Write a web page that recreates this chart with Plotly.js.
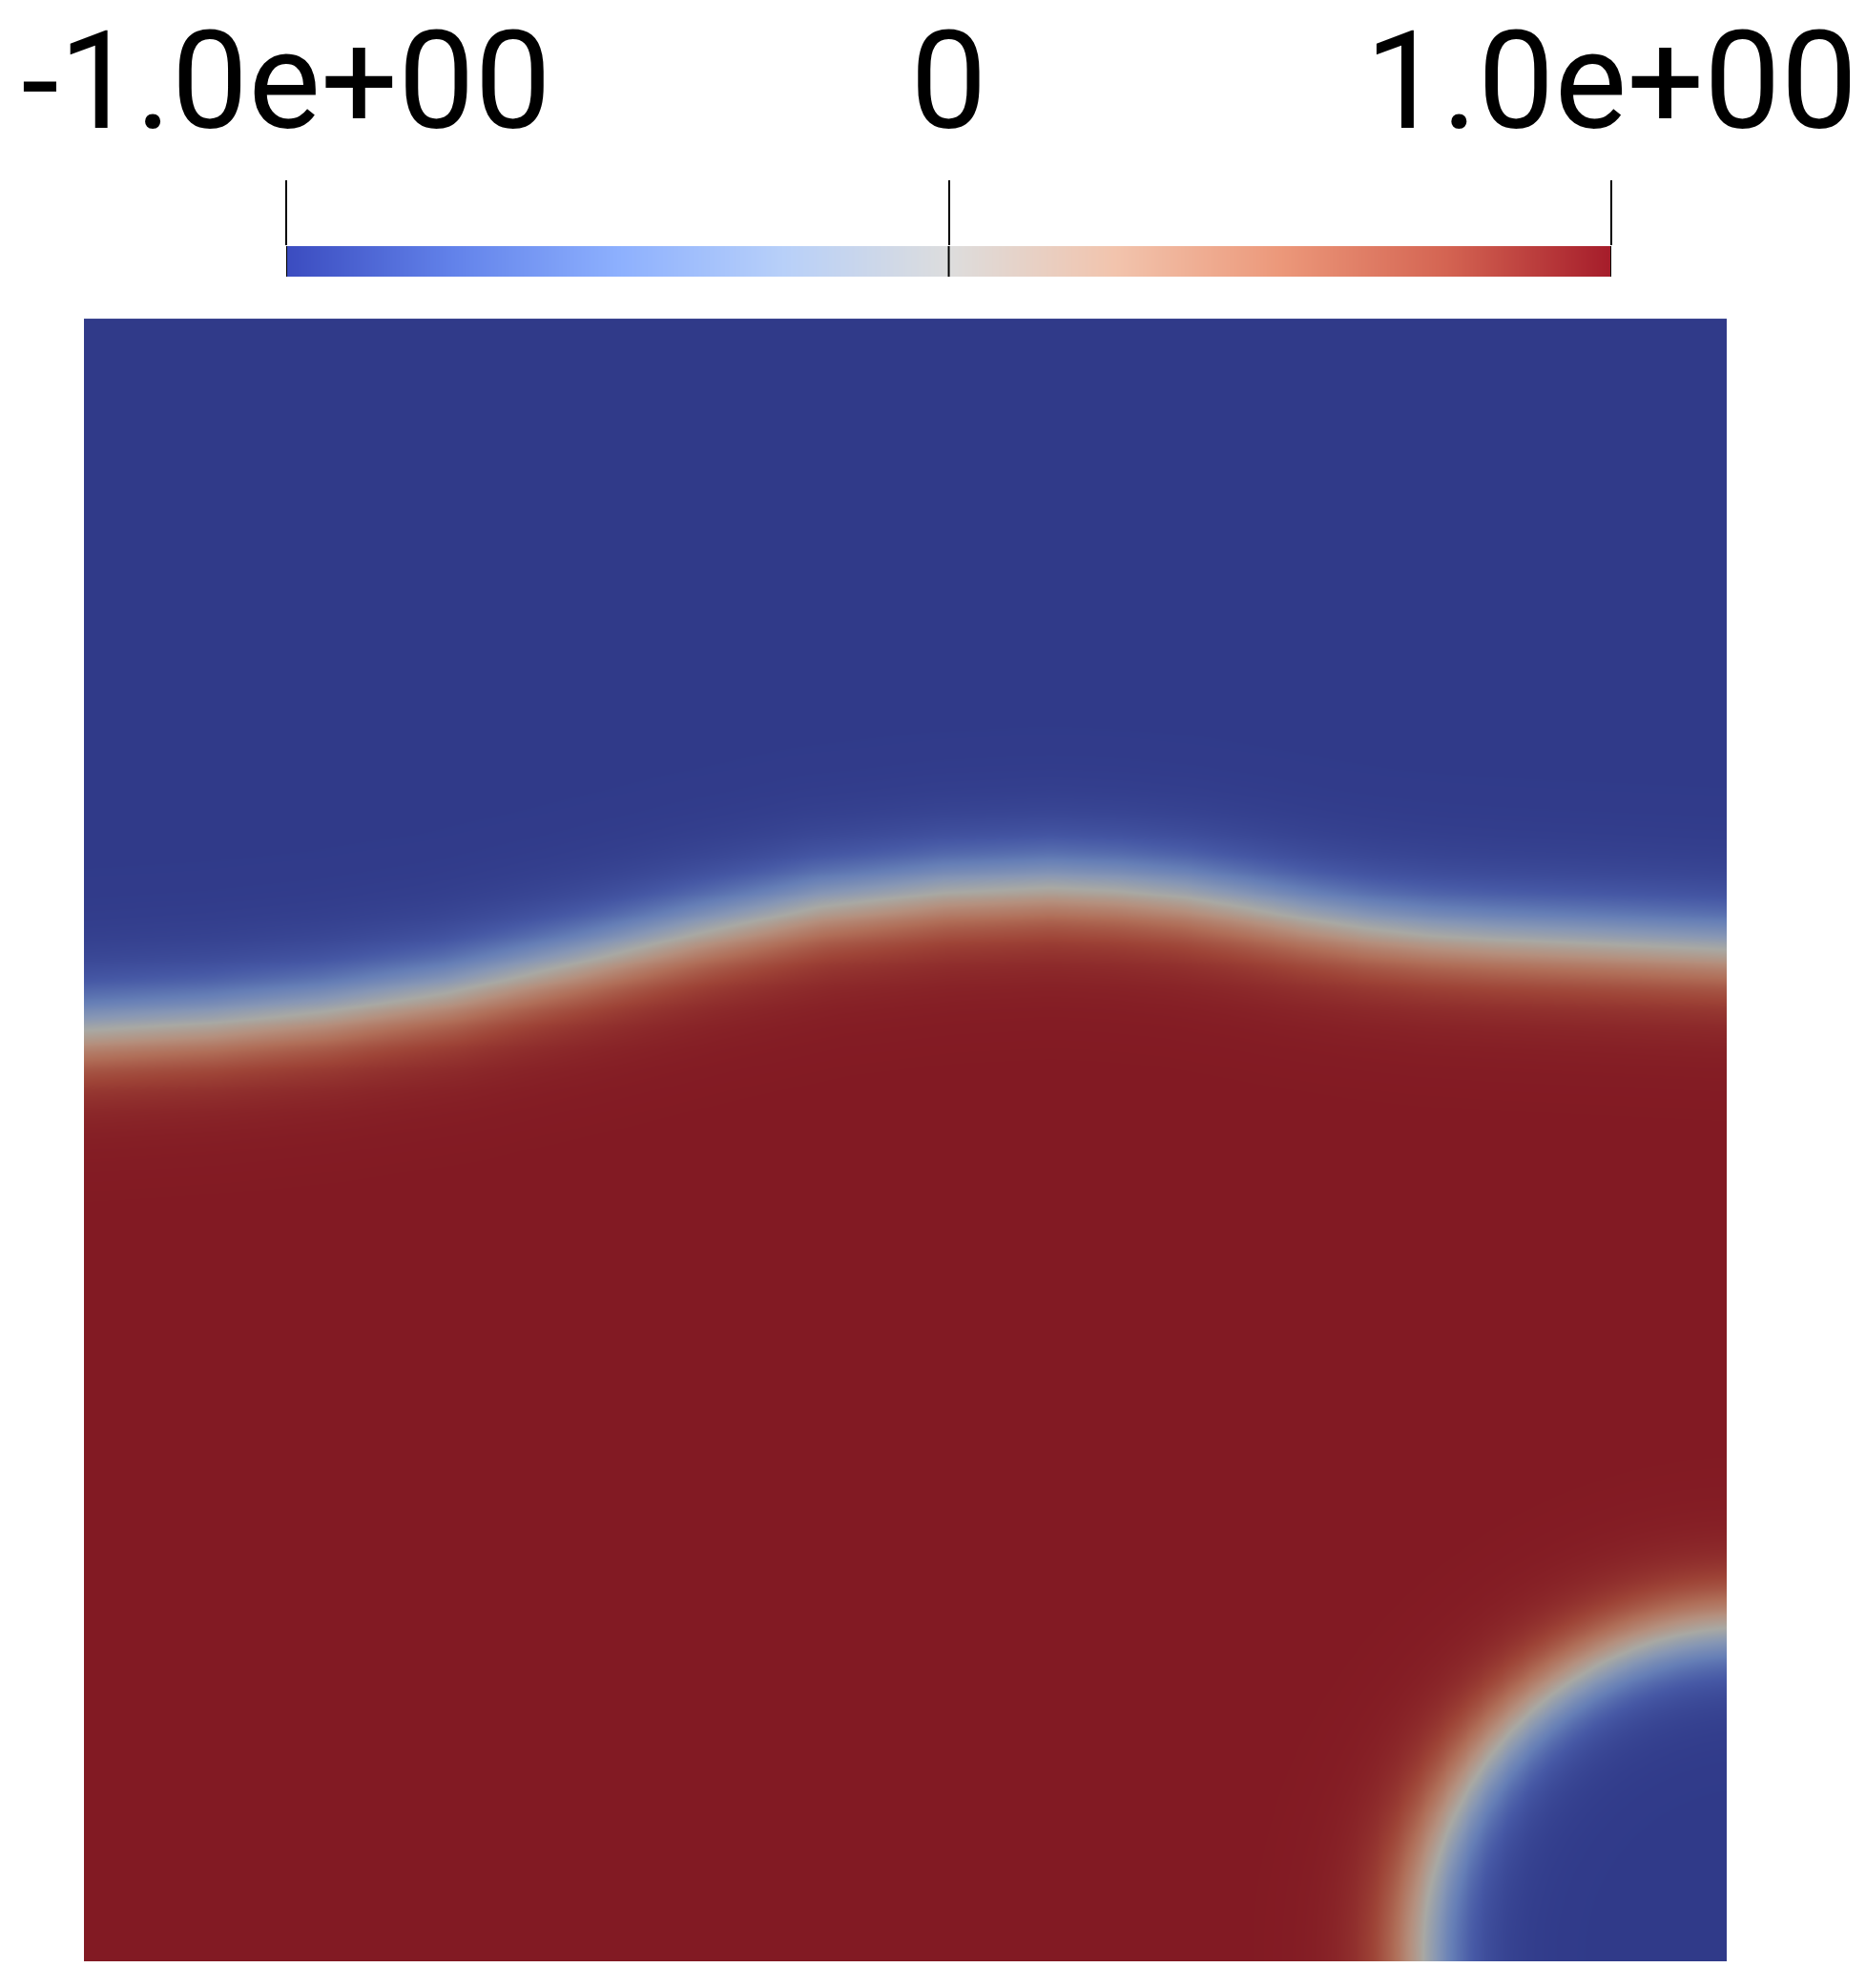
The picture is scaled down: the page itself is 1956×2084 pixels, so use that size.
<!DOCTYPE html>
<html>
<head>
<meta charset="utf-8">
<script src="https://cdn.plot.ly/plotly-3.0.1.min.js"></script>
<style>
html, body { margin: 0; padding: 0; background: #fff; }
#c1 { width: 1956px; height: 2084px; }
</style>
</head>
<body>
<div id="c1"></div>
<script>
// zero level of the wavy interface (unit box, y up)
var waveX = [0, 0.0767, 0.1463, 0.2218, 0.2973, 0.3728, 0.4483, 0.5238, 0.5877, 0.6283,
	0.6690, 0.7038, 0.7445, 0.7822, 0.8200, 0.8577, 0.8955, 0.9477, 1.0];
var waveY = [0.5668, 0.5714, 0.5784, 0.5900, 0.6074, 0.6260, 0.6423, 0.6510, 0.6539, 0.6521,
	0.6481, 0.6423, 0.6347, 0.6289, 0.6249, 0.6225, 0.6208, 0.6185, 0.6161];

// bubble sitting in the lower right corner
var dropX = 1.015;
var dropY = 0.004;
var dropR = 0.200;

// diffuse interface thickness
var eps = 0.032;

// colour legend
var legendVals = [-1, 1];
var tickVals = [-1, 0, 1];
var tickText = ['-1.0e+00', '0', '1.0e+00'];

// cool to warm, as in the legend
var coolWarm = [
	[0, 'rgb(59,76,192)'],
	[0.125, 'rgb(98,130,234)'],
	[0.25, 'rgb(141,176,254)'],
	[0.375, 'rgb(184,208,249)'],
	[0.5, 'rgb(221,221,221)'],
	[0.625, 'rgb(242,196,173)'],
	[0.75, 'rgb(236,152,122)'],
	[0.875, 'rgb(212,100,82)'],
	[1, 'rgb(165,28,42)']
];
// same map but shaded, as it looks on the surface
var coolWarmLit = [
	[0, 'rgb(48,58,137)'],
	[0.125, 'rgb(70,88,165)'],
	[0.25, 'rgb(101,126,182)'],
	[0.375, 'rgb(135,151,181)'],
	[0.5, 'rgb(169,169,164)'],
	[0.625, 'rgb(181,144,126)'],
	[0.75, 'rgb(176,110,88)'],
	[0.875, 'rgb(158,68,55)'],
	[1, 'rgb(130,26,35)']
];

function waveDist(px, py) {
	var best = 1e9;
	for (var i = 0; i < waveX.length - 1; i++) {
		var ax = waveX[i], ay = waveY[i];
		var dx = waveX[i+1] - ax, dy = waveY[i+1] - ay;
		var t = ((px - ax)*dx + (py - ay)*dy) / (dx*dx + dy*dy);
		t = Math.max(0, Math.min(1, t));
		var ex = px - (ax + t*dx), ey = py - (ay + t*dy);
		var d = Math.sqrt(ex*ex + ey*ey);
		if (d < best) best = d;
	}
	var k = 0;
	while (k < waveX.length - 2 && px > waveX[k+1]) k++;
	var f = (px - waveX[k]) / (waveX[k+1] - waveX[k]);
	var yc = waveY[k] + f*(waveY[k+1] - waveY[k]);
	// red phase below the wave
	return py < yc ? best : -best;
}

var n = 301;
var gx = [], gy = [], phi = [];
for (var i = 0; i < n; i++) { gx.push(i/(n-1)); gy.push(i/(n-1)); }
for (var j = 0; j < n; j++) {
	var row = [];
	for (var i = 0; i < n; i++) {
		var a = Math.tanh(waveDist(gx[i], gy[j]) / eps);
		var r = Math.sqrt(Math.pow(gx[i]-dropX, 2) + Math.pow(gy[j]-dropY, 2));
		var b = Math.tanh((r - dropR) / eps);
		row.push(Math.min(a, b));
	}
	phi.push(row);
}

var field = {
	type: 'heatmap',
	x: gx, y: gy, z: phi,
	zmin: -1, zmax: 1,
	zsmooth: 'best',
	colorscale: coolWarmLit,
	showscale: false,
	hoverinfo: 'skip'
};

var legend = {
	type: 'heatmap',
	x: legendVals, y: [0, 1],
	z: [legendVals, legendVals],
	zmin: -1, zmax: 1,
	zsmooth: 'best',
	colorscale: coolWarm,
	showscale: false,
	xaxis: 'x2', yaxis: 'y2',
	hoverinfo: 'skip'
};

// tick lines carried on through the bar
var tickLines = [];
for (var i = 0; i < tickVals.length; i++) {
	tickLines.push({
		type: 'line', layer: 'above',
		xref: 'x2', yref: 'y2 domain',
		x0: tickVals[i], x1: tickVals[i], y0: 0, y1: 1,
		line: {color: '#000', width: 2}
	});
}

var layout = {
	width: 1956, height: 2084,
	margin: {l: 0, r: 0, t: 0, b: 0},
	paper_bgcolor: '#fff', plot_bgcolor: '#fff',
	showlegend: false,
	xaxis: {domain: [0.045, 0.9254], range: [0, 1], visible: false, fixedrange: true},
	yaxis: {domain: [0.0134, 0.8397], range: [0, 1], visible: false, fixedrange: true},
	xaxis2: {
		domain: [0.1534, 0.8635], range: [-1, 1], anchor: 'y2', side: 'top',
		tickmode: 'array', tickvals: tickVals, ticktext: tickText,
		ticks: 'outside', ticklen: 68, tickwidth: 2, tickcolor: '#000',
		showgrid: false, zeroline: false, showline: false, fixedrange: true,
		ticklabelstandoff: -2, ticklabeloverflow: 'allow',
		tickfont: {family: 'Roboto', size: 143, color: '#000'}
	},
	yaxis2: {domain: [0.8608, 0.8762], range: [0, 1], anchor: 'x2', visible: false, fixedrange: true},
	shapes: tickLines
};

Plotly.newPlot('c1', [field, legend], layout, {displayModeBar: false, staticPlot: true});
</script>
</body>
</html>
